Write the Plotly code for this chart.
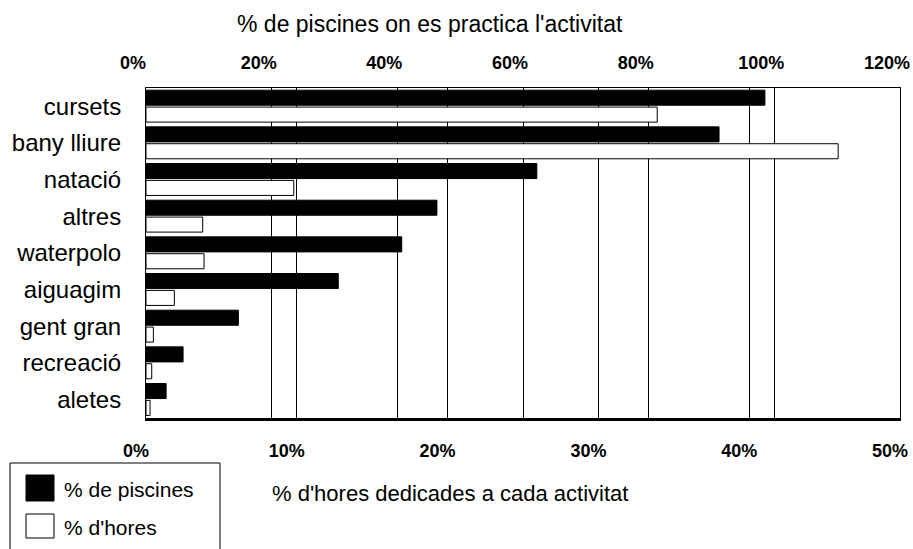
import plotly.graph_objects as go

categories = ["cursets", "bany lliure", "natació", "altres", "waterpolo",
              "aiguagim", "gent gran", "recreació", "aletes"]
pct_piscines = [0.985, 0.912, 0.622, 0.463, 0.407, 0.306, 0.147, 0.059, 0.032]
pct_hores = [0.339, 0.459, 0.098, 0.0376, 0.0385, 0.0188, 0.0049, 0.0038, 0.0027]

top_ticks = [0, 0.2, 0.4, 0.6, 0.8, 1.0, 1.2]
bottom_ticks = [0, 0.1, 0.2, 0.3, 0.4, 0.5]

W, H = 913, 549
L, R, T, B = 146, 13, 88, 131
PW, PH = W - L - R, H - T - B


def px(x):
    return (x - L) / PW


def py(y):
    return (H - B - y) / PH


FONT = "Liberation Sans, Arial, sans-serif"
tickfont = dict(family=FONT, size=18, color="black", weight="bold")
catfont = dict(family=FONT, size=24, color="black")

fig = go.Figure()
fig.add_trace(go.Bar(
    y=categories, x=pct_piscines, orientation="h", xaxis="x2", yaxis="y",
    name="% de piscines", marker=dict(color="black", line=dict(color="black", width=1)),
    width=0.41, offset=-0.44, showlegend=False,
))
fig.add_trace(go.Bar(
    y=categories, x=pct_hores, orientation="h", xaxis="x", yaxis="y",
    name="% d'hores", marker=dict(color="white", line=dict(color="black", width=1)),
    width=0.41, offset=0.02, showlegend=False,
))

# manual legend (box + swatches + labels)
shapes = [
    dict(type="rect", xref="paper", yref="paper", x0=px(10), x1=px(220), y0=py(560), y1=py(463),
         line=dict(color="black", width=1), fillcolor="white", layer="above"),
    dict(type="rect", xref="paper", yref="paper", x0=px(26), x1=px(54), y0=py(501), y1=py(475),
         line=dict(color="black", width=1), fillcolor="black", layer="above"),
    dict(type="rect", xref="paper", yref="paper", x0=px(26), x1=px(54), y0=py(538), y1=py(514),
         line=dict(color="black", width=1), fillcolor="white", layer="above"),
]
legend_names = ["% de piscines", "% d'hores"]
legend_y = [489, 527]

annotations = [
    dict(text="% de piscines on es practica l'activitat", xref="paper", yref="paper",
         x=px(430), y=py(24), xanchor="center", yanchor="middle", showarrow=False,
         font=dict(family=FONT, size=23, color="black")),
    dict(text="% d'hores dedicades a cada activitat", xref="paper", yref="paper",
         x=px(270), y=py(493), xanchor="left", yanchor="middle", showarrow=False,
         font=dict(family=FONT, size=22, color="black")),
]
for name, yy in zip(legend_names, legend_y):
    annotations.append(dict(text=name, xref="paper", yref="paper", x=px(62), y=py(yy),
                            xanchor="left", yanchor="middle", showarrow=False,
                            font=dict(family=FONT, size=21, color="black")))

fig.update_layout(
    width=W, height=H,
    margin=dict(l=L, r=R, t=T, b=B, pad=0, autoexpand=False),
    paper_bgcolor="white", plot_bgcolor="white",
    font=dict(family=FONT, color="black"),
    barmode="overlay",
    showlegend=False,
    xaxis=dict(range=[0, 0.5], tickvals=bottom_ticks, tickformat=".0%", side="bottom",
               showgrid=True, gridcolor="black", gridwidth=1, zeroline=False,
               showline=True, linecolor="black", linewidth=3, ticks="",
               tickfont=tickfont, ticklabelstandoff=14, ticklabelshift=-10,
               ticklabeloverflow="allow", automargin=False, fixedrange=True),
    xaxis2=dict(range=[0, 1.2], tickvals=top_ticks, tickformat=".0%", side="top",
                overlaying="x", showgrid=True, gridcolor="black", gridwidth=1, zeroline=False,
                showline=True, linecolor="black", linewidth=1, ticks="",
                tickfont=tickfont, ticklabelstandoff=11, ticklabelshift=-13,
                ticklabeloverflow="allow", automargin=False),
    yaxis=dict(autorange="reversed", showline=True, linecolor="black", linewidth=1,
               mirror=True, ticks="", showgrid=False, tickfont=catfont,
               ticklabelstandoff=19, automargin=False),
    shapes=shapes,
    annotations=annotations,
)

fig.write_html("out.html", config={"displayModeBar": False},
               post_script="document.body.style.margin='0';")
